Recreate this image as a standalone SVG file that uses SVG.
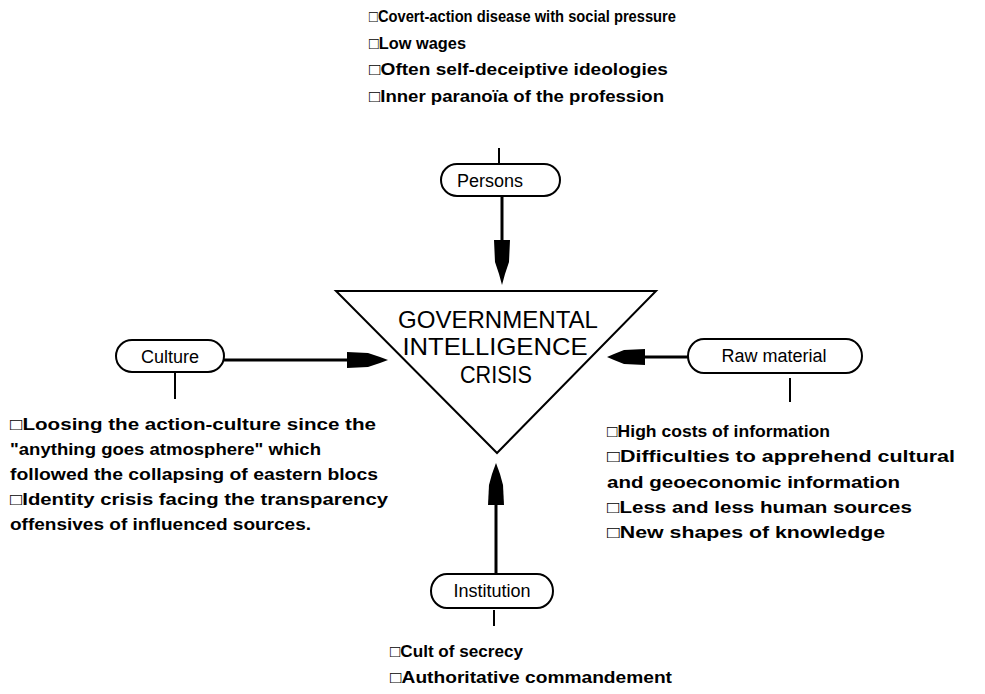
<svg xmlns="http://www.w3.org/2000/svg" width="985" height="694" viewBox="0 0 985 694">
<style>
.t{font-family:"Liberation Sans","DejaVu Sans",sans-serif;font-size:17px;font-weight:bold;fill:#000}
.c{font-family:"Liberation Sans","DejaVu Sans",sans-serif;font-size:24px;fill:#000;text-anchor:middle}
.lbl{font-family:"Liberation Sans","DejaVu Sans",sans-serif;font-size:18px;fill:#000;text-anchor:middle}
.sh{fill:#fff;stroke:#000;stroke-width:2}
.ln{stroke:#000;stroke-width:2;fill:none}
.sf{stroke:#000;stroke-width:3;fill:none}
.ah{fill:#000}
</style>
<rect width="985" height="694" fill="#fff"/>
<g id="connectors">
<line class="ln" x1="499" y1="148" x2="499" y2="164"/>
<line class="sf" x1="502" y1="197" x2="502" y2="245"/>
<polygon class="ah" points="494,240 510,240 509,262 505,274 502,285 499,274 495,262"/>
<line class="sf" x1="224" y1="360" x2="350" y2="360"/>
<polygon class="ah" points="347,352 347,368 368,367 380,363 388,360 380,357 368,353"/>
<line class="ln" x1="175" y1="372" x2="175" y2="399"/>
<line class="sf" x1="688" y1="357" x2="640" y2="357"/>
<polygon class="ah" points="645,349 645,365 624,364 614,360 607,357 614,354 624,350"/>
<line class="ln" x1="790" y1="378" x2="790" y2="402"/>
<line class="sf" x1="496" y1="574" x2="496" y2="500"/>
<polygon class="ah" points="488,505 504,505 503,485 500,474 496,463 492,474 489,485"/>
<line class="ln" x1="494" y1="610" x2="494" y2="626"/>
</g>
<g id="crisis">
<polygon class="sh" points="336,291 656,291 497,453"/>
<text class="c" x="498" y="328" textLength="200" lengthAdjust="spacingAndGlyphs">GOVERNMENTAL</text>
<text class="c" x="495" y="355" textLength="185" lengthAdjust="spacingAndGlyphs">INTELLIGENCE</text>
<text class="c" x="496" y="383" textLength="72" lengthAdjust="spacingAndGlyphs">CRISIS</text>
</g>
<g id="persons">
<path class="sh" d="M457,164 H544 A16,16 0 0 1 544,196 H457 A16,16 0 0 1 457,164 Z"/>
<text class="lbl" x="490" y="187">Persons</text>
</g>
<g id="culture">
<path class="sh" d="M132,343 H208 A16,16 0 0 1 208,375 H132 A16,16 0 0 1 132,343 Z" transform="translate(0,-3)"/>
<text class="lbl" x="170" y="363">Culture</text>
</g>
<g id="raw-material">
<path class="sh" d="M704,339 H846 A16,17 0 0 1 846,373 H704 A16,17 0 0 1 704,339 Z"/>
<text class="lbl" x="774" y="362">Raw material</text>
</g>
<g id="institution">
<path class="sh" d="M447,574 H537 A16,17 0 0 1 537,608 H447 A16,17 0 0 1 447,574 Z"/>
<text class="lbl" x="492" y="597">Institution</text>
</g>
<g id="persons-notes">
<text class="t" x="369" y="22" textLength="307" lengthAdjust="spacingAndGlyphs">□Covert-action disease with social pressure</text>
<text class="t" x="369" y="49" textLength="97" lengthAdjust="spacingAndGlyphs">□Low wages</text>
<text class="t" x="369" y="75" textLength="299" lengthAdjust="spacingAndGlyphs">□Often self-deceiptive ideologies</text>
<text class="t" x="369" y="102" textLength="295" lengthAdjust="spacingAndGlyphs">□Inner paranoïa of the profession</text>
</g>
<g id="culture-notes">
<text class="t" x="10" y="430" textLength="366" lengthAdjust="spacingAndGlyphs">□Loosing the action-culture since the</text>
<text class="t" x="10" y="455" textLength="311" lengthAdjust="spacingAndGlyphs">"anything goes atmosphere" which</text>
<text class="t" x="10" y="480" textLength="368" lengthAdjust="spacingAndGlyphs">followed the collapsing of eastern blocs</text>
<text class="t" x="10" y="505" textLength="378" lengthAdjust="spacingAndGlyphs">□Identity crisis facing the transparency</text>
<text class="t" x="10" y="530" textLength="301" lengthAdjust="spacingAndGlyphs">offensives of influenced sources.</text>
</g>
<g id="raw-material-notes">
<text class="t" x="607" y="437" textLength="223" lengthAdjust="spacingAndGlyphs">□High costs of information</text>
<text class="t" x="607" y="462" textLength="348" lengthAdjust="spacingAndGlyphs">□Difficulties to apprehend cultural</text>
<text class="t" x="607" y="488" textLength="293" lengthAdjust="spacingAndGlyphs">and geoeconomic information</text>
<text class="t" x="607" y="513" textLength="305" lengthAdjust="spacingAndGlyphs">□Less and less human sources</text>
<text class="t" x="607" y="538" textLength="278" lengthAdjust="spacingAndGlyphs">□New  shapes of knowledge</text>
</g>
<g id="institution-notes">
<text class="t" x="390" y="657" textLength="133" lengthAdjust="spacingAndGlyphs">□Cult of secrecy</text>
<text class="t" x="390" y="683" textLength="282" lengthAdjust="spacingAndGlyphs">□Authoritative commandement</text>
</g>
</svg>
